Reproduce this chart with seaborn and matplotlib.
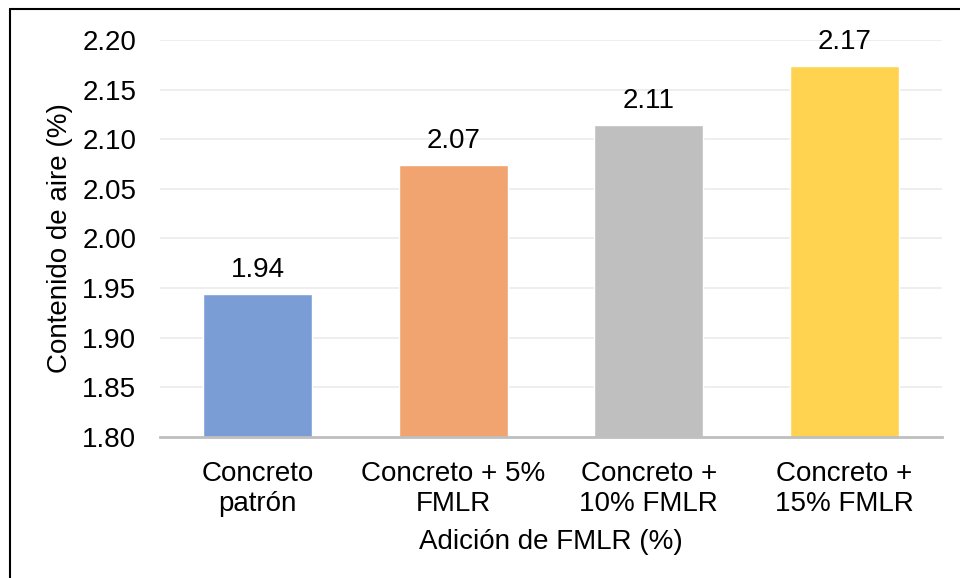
import matplotlib
matplotlib.use("Agg")
import matplotlib.pyplot as plt
from matplotlib.lines import Line2D
import seaborn as sns
import pandas as pd

# Air content of concrete mixes with increasing FMLR addition
categories = ["Concreto\npatrón", "Concreto + 5%\nFMLR", "Concreto +\n10% FMLR", "Concreto +\n15% FMLR"]
air_content = [1.944, 2.074, 2.114, 2.174]
bar_colors = ["#7B9DD6", "#F1A46F", "#BFBFBF", "#FFD34F"]
y_ticks = [1.80, 1.85, 1.90, 1.95, 2.00, 2.05, 2.10, 2.15, 2.20]

df = pd.DataFrame({"mezcla": categories, "aire": air_content})

sns.set_theme(style="white")
plt.rcParams["font.family"] = ["Liberation Sans", "DejaVu Sans"]

FS = 20

fig = plt.figure(figsize=(9.6, 5.78), dpi=100)
ax = fig.add_axes([160 / 960, 1 - 437 / 578, (942 - 160) / 960, (437 - 40) / 578])

sns.barplot(data=df, x="mezcla", y="aire", hue="mezcla", palette=bar_colors,
            width=0.557, legend=False, ax=ax, saturation=1)

ax.set_ylim(1.80, 2.20)
ax.set_xlim(-0.5, len(categories) - 0.5)
ax.set_yticks(y_ticks)
ax.set_yticklabels([f"{t:.2f}" for t in y_ticks])
ax.yaxis.grid(True, color="#EBEBEB", linewidth=1.2)
ax.set_axisbelow(True)

for side in ("top", "right", "left"):
    ax.spines[side].set_visible(False)
ax.spines["bottom"].set_color("#BFBFBF")
ax.spines["bottom"].set_linewidth(2)
ax.spines["bottom"].set_zorder(5)

ax.tick_params(axis="both", length=0, labelsize=FS, colors="black")
ax.tick_params(axis="y", pad=17)
ax.tick_params(axis="x", pad=17)
for lbl in ax.get_xticklabels():
    lbl.set_linespacing(1.2)

ax.set_xlabel("Adición de FMLR (%)", fontsize=FS, color="black", labelpad=9)
ax.set_ylabel("Contenido de aire (%)", fontsize=FS, color="black", labelpad=7)

for i, v in enumerate(air_content):
    ax.annotate(f"{v:.2f}", (i, v), xytext=(0, 8), textcoords="offset points",
                ha="center", va="bottom", fontsize=FS, color="black")

# chart frame lines at the left and top edges
fig.add_artist(Line2D([10 / 960, 10 / 960], [0, 1 - 9 / 578], color="black", linewidth=1.5))
fig.add_artist(Line2D([10 / 960, 1], [1 - 9 / 578, 1 - 9 / 578], color="black", linewidth=1.5))

fig.savefig("out.png", dpi=100)
